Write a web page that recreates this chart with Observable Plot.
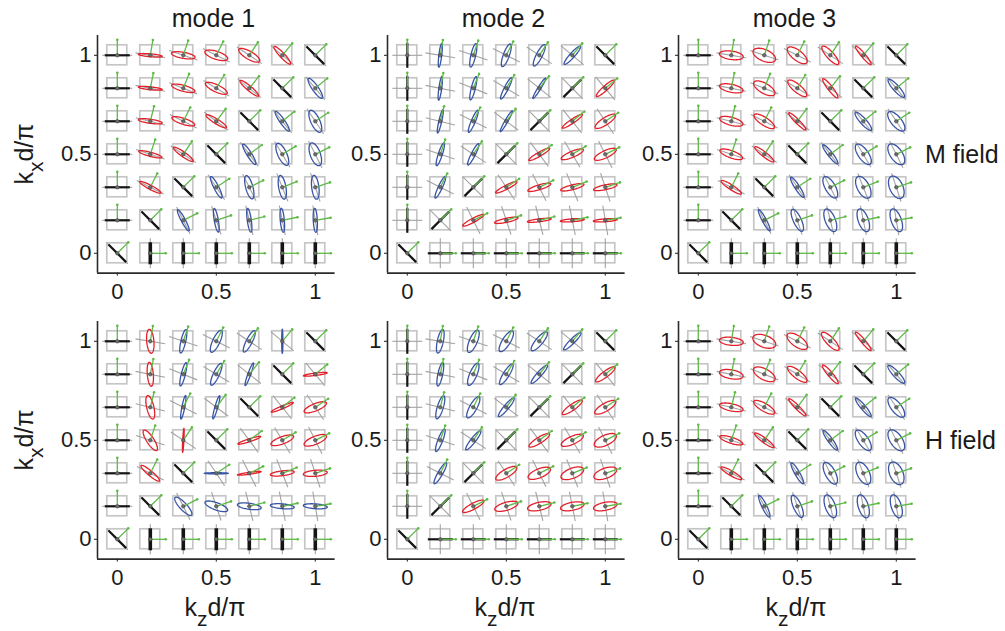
<!DOCTYPE html>
<html><head><meta charset="utf-8">
<script src="https://cdn.jsdelivr.net/npm/d3@7"></script>
<script src="https://cdn.jsdelivr.net/npm/@observablehq/plot@0.6"></script>
<style>
body{margin:0;background:#fff;}
#wrap{position:relative;width:1005px;height:631px;overflow:hidden;font-family:"Liberation Sans",Arial,sans-serif;background:#fff;}
</style></head><body><div id="wrap"></div>
<script>
// grid of normalised wavenumbers (k d / pi)
const kGrid = [0, 1/6, 2/6, 3/6, 4/6, 5/6, 1];
const tickValues = [0, 0.5, 1];
const modeTitles = ["mode 1", "mode 2", "mode 3"];
const fieldNames = ["M field", "H field"];

// Rows run from kx = 1 (top) down to kx = 0; columns kz = 0 .. 1.
// angle: orientation of the polarisation ellipse major axis (deg)
// ell: signed ellipticity b/a (+ red, - blue, 0 linear / black)
const mode1M_angle = [
  [0, -5, -10, -18, -30, -47, -45],
  [0, -6, -15, -25, -40, -45, -55],
  [0, -8, -18, -32, -45, -55, -65],
  [0, -15, -35, -45, -58, -65, -70],
  [0, -28, -45, -63, -75, -80, -83],
  [0, -45, -62, -80, -82, -85, -87],
  [-45, 90, 90, 90, 90, 90, 90]];
const mode1M_ell = [
  [0, .12, .25, .33, .33, .2, 0],
  [0, .12, .25, .3, .2, 0, -.25],
  [0, .17, .25, .2, 0, -.2, -.37],
  [0, .17, .2, 0, -.2, -.37, -.42],
  [0, .17, 0, -.2, -.3, -.3, -.3],
  [0, 0, -.17, -.17, -.17, -.17, -.17],
  [0, 0, 0, 0, 0, 0, 0]];
const mode1H_angle = [
  [0, 95, 77, 65, 63, 90, -45],
  [0, 95, 76, 65, 70, -45, 7],
  [0, 103, 79, 74, -45, 23, 22],
  [0, 123, 87, -45, 18, 20, 22],
  [0, 140, -45, 0, 8, 7, 5],
  [0, -45, -47, -20, -8, -5, -4],
  [-45, 90, 90, 90, 90, 90, 90]];
const mode1H_ell = [
  [0, .3, -.2, -.3, -.25, -.05, 0],
  [0, .25, -.17, -.25, -.12, 0, .1],
  [0, .3, -.12, -.12, 0, .12, .3],
  [0, .3, .05, 0, .12, .3, .33],
  [0, .2, 0, -.05, .08, .2, .25],
  [0, 0, -.3, -.3, -.25, -.2, -.2],
  [0, 0, 0, 0, 0, 0, 0]];
const mode2M_angle = [
  [90, 83, 77, 70, 63, 48, -45],
  [90, 82, 76, 63, 58, 45, 42],
  [90, 77, 67, 60, 45, 34, 33],
  [90, 72, 63, 45, 30, 23, 25],
  [90, 65, 45, 27, 17, 14, 12],
  [90, 45, 28, 12, 7, 4, 4],
  [-45, 0, 0, 0, 0, 0, 0]];
const mode2M_ell = [
  [0, -.12, -.2, -.25, -.25, -.2, 0],
  [0, -.12, -.17, -.17, -.12, 0, .2],
  [0, -.12, -.17, -.12, 0, .17, .3],
  [0, -.17, -.17, 0, .17, .25, .3],
  [0, -.17, 0, .17, .2, .2, .2],
  [0, 0, .17, .17, .12, .12, .12],
  [0, 0, 0, 0, 0, 0, 0]];
const mode2H_angle = [
  [90, 78, 67, 58, 50, 45, -45],
  [90, 78, 67, 58, 48, 45, 37],
  [90, 73, 61, 50, 45, 35, 30],
  [90, 69, 52, 45, 32, 24, 25],
  [90, 60, 45, 30, 22, 21, 20],
  [90, 45, 28, 16, 12, 11, 11],
  [-45, 0, 0, 0, 0, 0, 0]];
const mode2H_ell = [
  [0, -.25, -.33, -.33, -.3, -.2, 0],
  [0, -.2, -.3, -.25, -.2, 0, .25],
  [0, -.25, -.3, -.2, 0, .25, .33],
  [0, -.2, -.2, 0, .25, .33, .42],
  [0, -.2, 0, .33, .37, .42, .42],
  [0, 0, .25, .33, .33, .33, .33],
  [0, 0, 0, 0, 0, 0, 0]];
const mode3M_angle = [
  [0, -8, -23, -38, -48, -50, -45],
  [0, -12, -30, -40, -52, -45, -48],
  [0, -15, -33, -45, -45, -48, -50],
  [0, -20, -38, -45, -52, -55, -55],
  [0, -33, -45, -57, -60, -62, -65],
  [0, -45, -62, -65, -68, -70, -70],
  [-45, 90, 90, 90, 90, 90, 90]];
const mode3M_ell = [
  [0, .35, .48, .42, .3, .17, 0],
  [0, .33, .42, .33, .2, 0, -.25],
  [0, .33, .33, .17, 0, -.25, -.42],
  [0, .3, .2, 0, -.2, -.42, -.5],
  [0, .2, 0, -.2, -.42, -.5, -.55],
  [0, 0, -.17, -.33, -.42, -.42, -.42],
  [0, 0, 0, 0, 0, 0, 0]];
const mode3H_angle = [
  [0, -6, -20, -35, -46, -50, -45],
  [0, -10, -28, -38, -50, -45, -47],
  [0, -12, -30, -45, -45, -50, -52],
  [0, -18, -36, -45, -54, -55, -56],
  [0, -30, -45, -60, -62, -64, -66],
  [0, -45, -64, -66, -70, -72, -72],
  [-45, 90, 90, 90, 90, 90, 90]];
const mode3H_ell = [
  [0, .33, .5, .45, .33, .17, 0],
  [0, .37, .45, .33, .2, 0, -.25],
  [0, .3, .33, .17, 0, -.2, -.42],
  [0, .25, .2, 0, -.2, -.42, -.5],
  [0, .2, 0, -.2, -.42, -.5, -.55],
  [0, 0, -.2, -.33, -.42, -.42, -.42],
  [0, 0, 0, 0, 0, 0, 0]];

const panels = [
  {col: 0, row: 0, angle: mode1M_angle, ell: mode1M_ell},
  {col: 1, row: 0, angle: mode2M_angle, ell: mode2M_ell},
  {col: 2, row: 0, angle: mode3M_angle, ell: mode3M_ell},
  {col: 0, row: 1, angle: mode1H_angle, ell: mode1H_ell},
  {col: 1, row: 1, angle: mode2H_angle, ell: mode2H_ell},
  {col: 2, row: 1, angle: mode3H_angle, ell: mode3H_ell}
];

// ---- styling / layout ----
const RED = "#e3202a", BLUE = "#3753a4", GREEN = "#5dba45", BLACK = "#141414";
const FRAME = 237.6, DOMAIN = [-0.1, 1.1];
const U = (DOMAIN[1] - DOMAIN[0]) / FRAME; // data units per pixel
const BOX = 10 * U, GRAYL = 15 * U, GREENL = 15.5 * U, LINL = 12.5 * U, SEMI = 12 * U;
const frameLeft = [97.2, 387.2, 678.2], frameTop = [35.2, 321.2];
const ML = 60, MR = 20, MT = 20, MB = 40;

const wrap = document.getElementById("wrap");

function theta(d) { return (d.kz === 0 && d.kx === 0) ? Math.PI / 4 : Math.atan2(d.kx, d.kz); }

for (const p of panels) {
  const glyphs = [];
  p.angle.forEach((rowVals, i) => rowVals.forEach((ang, j) => {
    glyphs.push({id: i * 7 + j, kz: kGrid[j], kx: kGrid[6 - i], psi: ang * Math.PI / 180, e: p.ell[i][j]});
  }));
  const pts = [];
  for (const g of glyphs) {
    if (g.e === 0) continue;
    const a = SEMI, b = Math.max(Math.abs(g.e), 0.04) * SEMI;
    for (let s = 0; s < 72; s++) {
      const t = 2 * Math.PI * s / 72;
      const cx = a * Math.cos(t), cy = b * Math.sin(t);
      pts.push({id: g.id,
        x: g.kz + cx * Math.cos(g.psi) - cy * Math.sin(g.psi),
        y: g.kx + cx * Math.sin(g.psi) + cy * Math.cos(g.psi),
        c: g.e > 0 ? RED : BLUE});
    }
  }
  const linear = glyphs.filter(g => g.e === 0);
  const isThick = g => g.kx === 0 && g.kz > 0 && Math.abs(Math.cos(g.psi)) < 1e-6;
  const lin = (g, s) => ({x1: g.kz - s * Math.cos(g.psi), y1: g.kx - s * Math.sin(g.psi), x2: g.kz + s * Math.cos(g.psi), y2: g.kx + s * Math.sin(g.psi)});

  const svg = Plot.plot({
    width: ML + FRAME + MR,
    height: MT + FRAME + MB,
    marginLeft: ML, marginRight: MR, marginTop: MT, marginBottom: MB,
    style: {fontFamily: "'Liberation Sans', Arial, sans-serif", fontSize: "22px", color: "#1a1a1a", background: "none", overflow: "visible"},
    x: {domain: DOMAIN, ticks: tickValues, tickSize: 3, tickPadding: 7, label: null, tickFormat: d => String(d)},
    y: {domain: DOMAIN, ticks: tickValues, tickSize: 3, tickPadding: 3, label: null, tickFormat: d => String(d)},
    color: {type: "identity"},
    marks: [
      Plot.rect(glyphs, {x1: d => d.kz - BOX, x2: d => d.kz + BOX, y1: d => d.kx - BOX, y2: d => d.kx + BOX, fill: "none", stroke: "#c6c6c6", strokeWidth: 1.7}),
      Plot.link(glyphs, {
        x1: d => d.kz - GRAYL * Math.cos(theta(d) + Math.PI / 2), y1: d => d.kx - GRAYL * Math.sin(theta(d) + Math.PI / 2),
        x2: d => d.kz + GRAYL * Math.cos(theta(d) + Math.PI / 2), y2: d => d.kx + GRAYL * Math.sin(theta(d) + Math.PI / 2),
        stroke: "#a3a3a3", strokeWidth: 1.1}),
      Plot.link(linear.filter(g => !isThick(g)), {
        x1: g => lin(g, LINL).x1, y1: g => lin(g, LINL).y1, x2: g => lin(g, LINL).x2, y2: g => lin(g, LINL).y2,
        stroke: BLACK, strokeWidth: 2.2}),
      Plot.link(linear.filter(isThick), {
        x1: g => lin(g, 11 * U).x1, y1: g => lin(g, 11 * U).y1, x2: g => lin(g, 11 * U).x2, y2: g => lin(g, 11 * U).y2,
        stroke: BLACK, strokeWidth: 3.6}),
      Plot.line(pts, {x: "x", y: "y", z: "id", stroke: "c", curve: "linear-closed", strokeWidth: 1.3}),
      Plot.link(glyphs, {x1: "kz", y1: "kx", x2: d => d.kz + GREENL * Math.cos(theta(d)), y2: d => d.kx + GREENL * Math.sin(theta(d)), stroke: GREEN, strokeWidth: 1.3}),
      Plot.dot(glyphs, {x: d => d.kz + GREENL * Math.cos(theta(d)), y: d => d.kx + GREENL * Math.sin(theta(d)), r: 1.3, fill: GREEN}),
      Plot.dot(glyphs, {x: "kz", y: "kx", r: 1.8, fill: "#6e6e6e", stroke: "#333", strokeWidth: 0.5}),
      Plot.ruleX([DOMAIN[0]], {stroke: "#2b2b2b", strokeWidth: 1.6}),
      Plot.ruleY([DOMAIN[0]], {stroke: "#2b2b2b", strokeWidth: 1.6})
    ]
  });
  svg.style.position = "absolute";
  svg.style.left = (frameLeft[p.col] - ML) + "px";
  svg.style.top = (frameTop[p.row] - MT) + "px";
  svg.style.maxWidth = "none";
  wrap.appendChild(svg);
}

// ---- titles and axis labels ----
const over = d3.select(wrap).append("svg")
  .attr("width", 1005).attr("height", 631)
  .style("position", "absolute").style("left", "0px").style("top", "0px")
  .style("pointer-events", "none")
  .attr("font-family", "'Liberation Sans', Arial, sans-serif").attr("fill", "#1a1a1a");

modeTitles.forEach((t, i) => {
  over.append("text").attr("x", frameLeft[i] + FRAME / 2 - 2.5).attr("y", 27)
    .attr("text-anchor", "middle").attr("font-size", 25).text(t);
});
fieldNames.forEach((t, i) => {
  over.append("text").attr("x", 925).attr("y", [163, 449][i])
    .attr("font-size", 25).text(t);
});
function subLabel(sel, sub) {
  sel.append("tspan").text("k");
  sel.append("tspan").attr("dy", 10).attr("font-size", 21).text(sub);
  sel.append("tspan").attr("dy", -10).text("d/π");
}
[154, 440].forEach(cy => {
  const t = over.append("text").attr("transform", `translate(33,${cy}) rotate(-90)`)
    .attr("text-anchor", "middle").attr("font-size", 25);
  subLabel(t, "x");
});
[0, 1, 2].forEach(i => {
  const t = over.append("text").attr("x", frameLeft[i] + FRAME / 2 - 1).attr("y", 616)
    .attr("text-anchor", "middle").attr("font-size", 25);
  subLabel(t, "z");
});
</script></body></html>
